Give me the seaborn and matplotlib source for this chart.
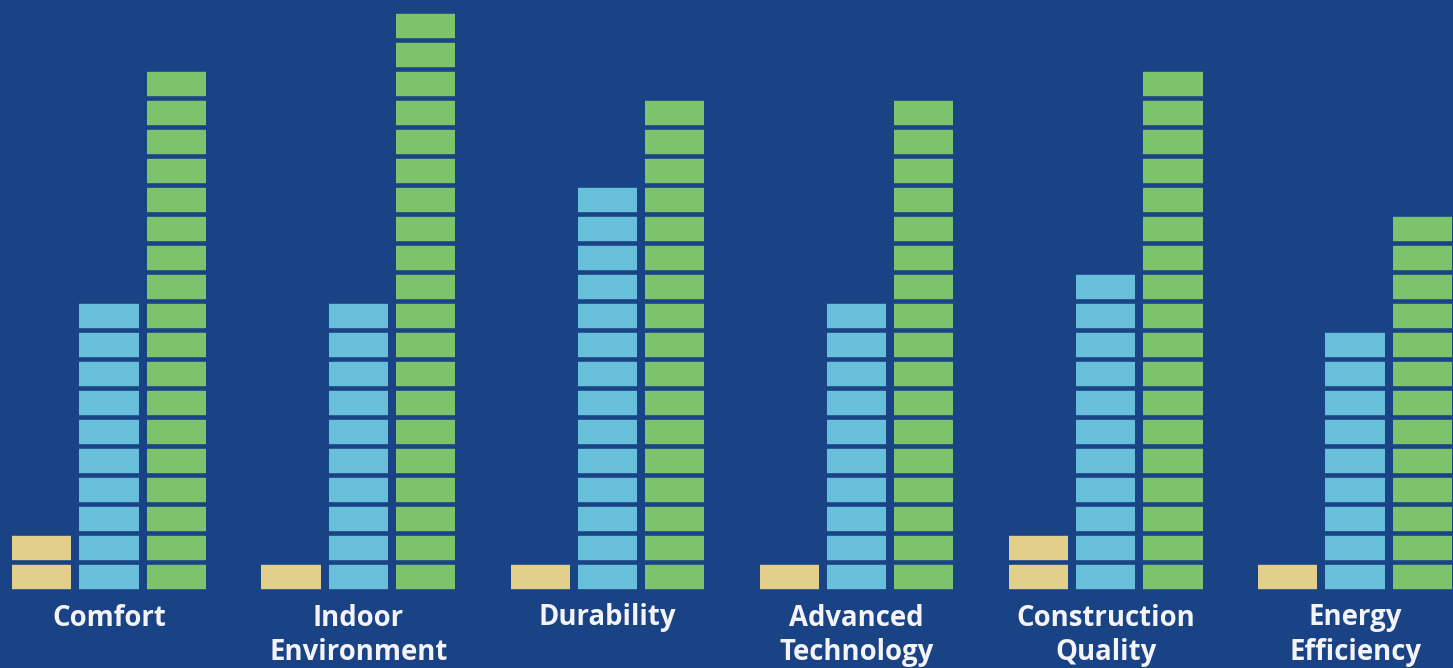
import pandas as pd
import matplotlib
matplotlib.use("Agg")
import matplotlib.pyplot as plt
import seaborn as sns

# number of blocks per bar
categories = ["Comfort", "Indoor\nEnvironment", "Durability",
              "Advanced\nTechnology", "Construction\nQuality", "Energy\nEfficiency"]
series = ["low", "mid", "high"]
low_blocks = [2, 1, 1, 1, 2, 1]
mid_blocks = [10, 10, 14, 10, 11, 9]
high_blocks = [18, 20, 17, 17, 18, 13]

bg = "#1A4385"
colors = ["#E2CF8C", "#67BFDA", "#7DC36C"]

df = pd.DataFrame({
    "category": categories * 3,
    "series": [s for s in series for _ in categories],
    "blocks": low_blocks + mid_blocks + high_blocks,
})

sns.set_style("white")
plt.rcParams["font.family"] = ["Open Sans", "DejaVu Sans"]

W, H = 1453, 668
fig = plt.figure(figsize=(W / 100, H / 100), dpi=100, facecolor=bg)
base = 591  # pixel row of the bars' baseline
ax = fig.add_axes([0, (H - base) / H, 1, base / H])
ax.set_facecolor(bg)

sns.barplot(data=df, x="category", y="blocks", hue="series", order=categories,
            hue_order=series, palette=colors, saturation=1, width=0.81, gap=0.12,
            linewidth=0, edgecolor="none", legend=False, ax=ax)

# split each bar into blocks with background-coloured rules
pitch = 29.0
for k in range(0, max(high_blocks) + 1):
    ax.axhline(k, color=bg, lw=4.6 * 72 / 100, zorder=5)

ax.set_ylim(0, base / pitch)
ax.set_xlim(-109 / 249.2, (W - 109) / 249.2)
ax.set_xlabel("")
ax.set_ylabel("")
ax.set_yticks([])
ax.set_xticks(range(len(categories)))
ax.set_xticklabels(categories, color="#F4F4F8", fontsize=19.8, fontweight="bold",
                   linespacing=1.27)
ax.tick_params(axis="x", length=0, pad=9)
for s in ax.spines.values():
    s.set_visible(False)

fig.savefig("out.png", dpi=100, facecolor=bg)
